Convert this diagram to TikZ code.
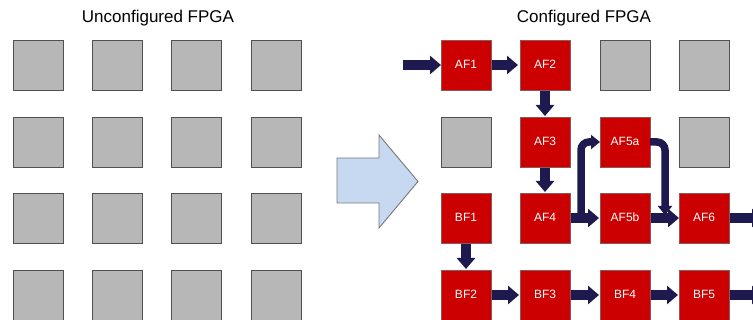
\documentclass[tikz,border=0pt]{standalone}
\usepackage{fontspec}
\setmainfont{Liberation Sans}
\usetikzlibrary{arrows.meta,calc}

\definecolor{cellgray}{RGB}{183,183,183}
\definecolor{celledge}{RGB}{80,80,80}
\definecolor{usedred}{RGB}{204,0,0}
\definecolor{usededge}{RGB}{140,90,90}
\definecolor{flowblue}{RGB}{30,26,80}
\definecolor{bigfill}{RGB}{198,217,240}
\definecolor{bigedge}{RGB}{120,120,120}

% block label, set a little up and to the left of the block centre
\newcommand{\blk}[1]{\raisebox{2pt}{#1}\hspace{3pt}}

\tikzset{
  cell/.style={draw=celledge, line width=0.9pt, fill=cellgray,
    minimum size=50pt, inner sep=0pt, outer sep=0pt},
  used/.style={draw=usededge, line width=0.6pt, fill=usedred, text=white,
    minimum size=50pt, inner sep=0pt, outer sep=0pt,
    font=\fontsize{12}{14}\selectfont},
  title/.style={anchor=base, font=\fontsize{17}{20}\selectfont},
  flow/.style={draw=flowblue, line width=10pt,
    -{Triangle[length=11pt,width=18pt]}},
  branch/.style={draw=flowblue, line width=7.5pt, rounded corners=8pt,
    -{Triangle[length=9pt,width=14pt]}},
}

\begin{document}
\begin{tikzpicture}[x=1pt,y=-1pt]
\useasboundingbox (0,0) rectangle (753,320);
\clip (0,0) rectangle (753,320);

% titles
\node[title] (tleft) at (158,22.5) {Unconfigured FPGA};
\node[title] (tright) at (584,22.5) {Configured FPGA};

% unconfigured fabric: 4 x 4 blank cells
\foreach \c/\x in {1/38,2/117,3/196,4/276}
  \foreach \r/\y in {1/65,2/142,3/218,4/295}
    \node[cell] (u\r\c) at (\x,\y) {};

% configuration arrow
\draw[draw=bigedge, line width=0.9pt, fill=bigfill]
  (337,158) -- (379,158) -- (379,135) -- (418,181.5)
  -- (379,228) -- (379,203) -- (337,203) -- cycle;

% configured fabric
\node[used] (AF1) at (466,65) {\blk{AF1}};
\node[used] (AF2) at (545,65) {\blk{AF2}};
\node[cell] (c13) at (625,65) {};
\node[cell] (c14) at (704,65) {};

\node[cell] (c21) at (466,142) {};
\node[used] (AF3) at (545,142) {\blk{AF3}};
\node[used] (AF5a) at (625,142) {\blk{AF5a}};
\node[cell] (c24) at (704,142) {};

\node[used] (BF1) at (466,218) {\blk{BF1}};
\node[used] (AF4) at (545,218) {\blk{AF4}};
\node[used] (AF5b) at (625,218) {\blk{AF5b}};
\node[used] (AF6) at (704,218) {\blk{AF6}};

\node[used] (BF2) at (466,295) {\blk{BF2}};
\node[used] (BF3) at (545,295) {\blk{BF3}};
\node[used] (BF4) at (625,295) {\blk{BF4}};
\node[used] (BF5) at (704,295) {\blk{BF5}};

% free ends and branch points
\coordinate (ain) at ([xshift=-38pt]AF1.west);
\coordinate (aout) at ([xshift=34pt]AF6.east);
\coordinate (bout) at ([xshift=34pt]BF5.east);
\coordinate (fork) at ([xshift=11pt]AF4.east);
\coordinate (join) at ([xshift=15pt,yshift=3pt]AF5b.east);

% data flow of function A
\draw[flow] (ain) -- (AF1.west);
\draw[flow] ([xshift=1pt]AF1.east) -- ([xshift=-2pt]AF2.west);
\draw[flow] ([yshift=-1pt]AF2.south) -- ([yshift=1pt]AF3.north);
\draw[flow] ([yshift=-1pt]AF3.south) -- ([yshift=1pt]AF4.north);
\draw[flow] ([xshift=1pt]AF4.east) -- ([xshift=-1pt]AF5b.west);
\draw[branch] (fork) |- (AF5a.west);
\draw[flow] ([xshift=1pt]AF5b.east) -- (AF6.west);
\draw[branch] (AF5a.east) -| (join);
\draw[flow] ([xshift=1pt]AF6.east) -- (aout);

% data flow of function B
\draw[flow] ([yshift=-1pt]BF1.south) -- ([yshift=1pt]BF2.north);
\draw[flow] ([xshift=1pt]BF2.east) -- ([xshift=-1pt]BF3.west);
\draw[flow] ([xshift=1pt]BF3.east) -- ([xshift=-1pt]BF4.west);
\draw[flow] ([xshift=1pt]BF4.east) -- ([xshift=-1pt]BF5.west);
\draw[flow] ([xshift=1pt]BF5.east) -- (bout);
\end{tikzpicture}
\end{document}
